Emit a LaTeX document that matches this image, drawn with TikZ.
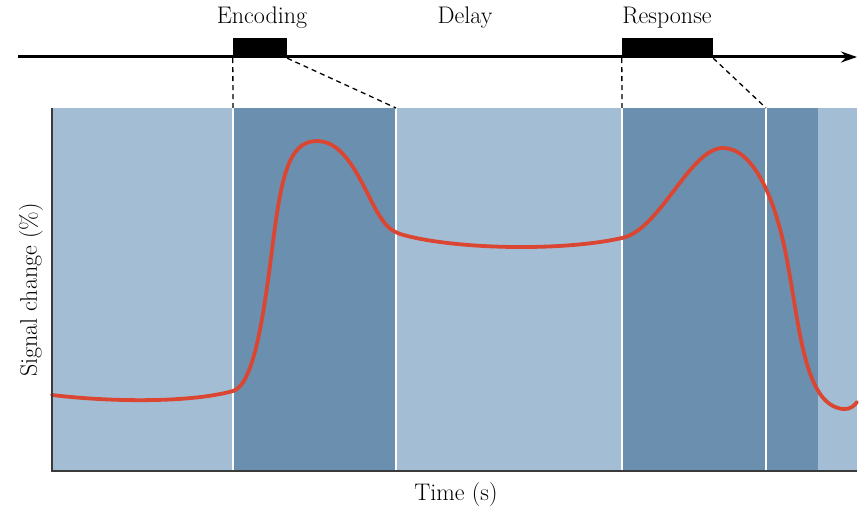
\documentclass[tikz,border=0pt]{standalone}
\usepackage{fontspec}
\usetikzlibrary{arrows.meta}
\definecolor{lightband}{HTML}{A3BDD4}
\definecolor{darkband}{HTML}{6B90AF}
\definecolor{curvered}{HTML}{DB4632}
\definecolor{axisgray}{HTML}{3A3A3A}
\begin{document}
\begin{tikzpicture}[x=1pt,y=-1pt,
  lbl/.style={font=\fontsize{24}{28}\selectfont, inner sep=0pt},
  evbox/.style={fill=black, draw=none, inner sep=0pt, minimum height=20pt},
  guide/.style={black, line width=1.3pt, dash pattern=on 5pt off 4pt},
  sep/.style={white, line width=1.6pt}]
\useasboundingbox (0,0) rectangle (862,510);
% bands
\fill[lightband] (52,108) rectangle (233,471);
\fill[darkband] (233,108) rectangle (396,471);
\fill[lightband] (396,108) rectangle (622,471);
\fill[darkband] (622,108) rectangle (818,471);
\fill[lightband] (818,108) rectangle (857,471);
\draw[sep] (233,108) -- (233,471);
\draw[sep] (396,108) -- (396,471);
\draw[sep] (622,108) -- (622,471);
\draw[sep] (766,108) -- (766,471);
% curve
\draw[curvered, line width=3.8pt, line cap=round]
 (52,395) .. controls (110,402) and (190,403) .. (233,391)
 .. controls (252,385) and (262,330) .. (272,250)
 .. controls (281,178) and (288,141) .. (317,141)
 .. controls (345,141) and (360,180) .. (375,208)
 .. controls (385,226) and (390,230) .. (400,234)
 .. controls (450,249) and (560,252) .. (622,238)
 .. controls (660,230) and (690,148) .. (723,148)
 .. controls (752,148) and (775,195) .. (787,260)
 .. controls (800,330) and (805,405) .. (843,409)
 .. controls (850,410) and (855,405) .. (857,402);
% axes
\draw[axisgray, line width=1.5pt] (52,108) -- (52,471) -- (857,471);
% timeline
\coordinate (tl0) at (18,57);
\coordinate (tl1) at (857,57);
\draw[black, line width=3pt, -{Stealth[length=16pt,width=11pt]}] (tl0) -- (tl1);
\node[evbox, minimum width=54pt] (enc) at (260,48) {};
\node[evbox, minimum width=91pt] (resp) at (667.5,48) {};
\node[lbl] (encl) at (262,18) {Encoding};
\node[lbl] (delayl) at (465,18) {Delay};
\node[lbl] (respl) at (667,18) {Response};
% dashed guides
\coordinate (g1) at (233,108);
\coordinate (g2) at (396,108);
\coordinate (g3) at (622,108);
\coordinate (g4) at (766,108);
\draw[guide] (enc.south west) -- (g1);
\draw[guide] (enc.south east) -- (g2);
\draw[guide] (resp.south west) -- (g3);
\draw[guide] (resp.south east) -- (g4);
% axis labels
\node[lbl, rotate=90] (ylab) at (31,290) {Signal change (\%)};
\node[lbl] (xlab) at (456,495) {Time (s)};
\end{tikzpicture}
\end{document}
